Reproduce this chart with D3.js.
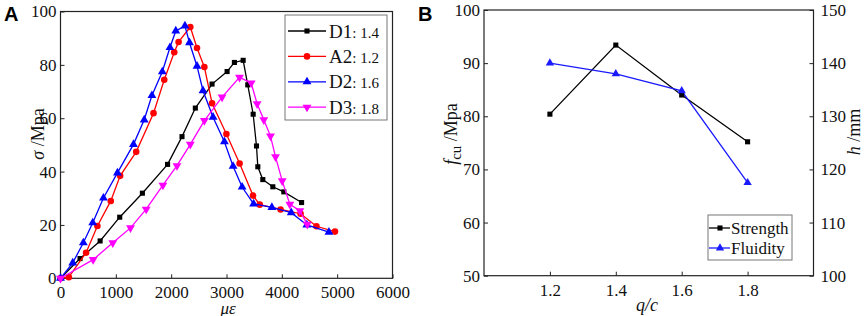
<!DOCTYPE html>
<html>
<head>
<meta charset="utf-8">
<script src="https://cdn.jsdelivr.net/npm/d3@7"></script>
<style>
  body { margin: 0; background: #fff; }
  svg { display: block; }
  svg text { font-family: "Liberation Serif", "Times New Roman", serif; }
</style>
</head>
<body>
<svg id="chart" width="865" height="316"></svg>
<script>
// Panel A : stress-strain curves (x = microstrain, y = MPa)
const seriesNames = ["D1", "A2", "D2", "D3"];
const seriesRatios = ["1.4", "1.2", "1.6", "1.8"];
const d1 = [[0,0],[353,7.4],[716,14],[1070,22.9],[1480,31.9],[1935,42.7],[2196,53.1],[2437,63.8],[2739,72.8],[3011,77.5],[3143,80.9],[3301,81.7],[3384,72.5],[3482,61.5],[3542,49.6],[3566,41.8],[3656,37],[3837,34.3],[4036,32.4],[4357,28.4]];
const a2 = [[0,0],[150,0.4],[462,9.6],[667,19.6],[909,29],[1078,38.4],[1368,47.4],[1681,61.9],[1875,74.4],[2056,84.7],[2134,88.6],[2346,94.2],[2467,86.3],[2600,79.2],[2739,65.6],[2998,54.1],[3237,43],[3480,31],[3601,27.6],[3977,25.8],[4339,24.2],[4625,19.5],[4960,17.5]];
const d2 = [[0,0],[221,5.8],[413,13.3],[583,20.8],[776,30.1],[1029,39.5],[1319,50.2],[1513,59.4],[1652,68.5],[1840,77.4],[1978,86.5],[2083,92.7],[2249,94.6],[2331,88.3],[2467,79.5],[2576,70.3],[2757,60.4],[2962,51.2],[3119,42],[3282,34.2],[3490,27.9],[3820,26.6],[4170,24.6],[4452,20],[4851,17.3]];
const d3s = [[0,0],[590,7],[945,13.3],[1265,18.9],[1549,25.9],[1851,34.9],[2105,42.2],[2346,50.2],[2600,59.1],[2920,67.9],[3235,75.3],[3446,73.2],[3554,65.4],[3674,59.4],[3795,53.3],[3886,45.5],[4007,36.5],[4145,27.7],[4326,25.3],[4460,20.2]];
const strainTicks = [0, 1000, 2000, 3000, 4000, 5000, 6000];
const stressTicks = [0, 20, 40, 60, 80, 100];

// Panel B : strength and fluidity vs q/c
const qc = [1.2, 1.4, 1.6, 1.8];
const strength = [80.4, 93.4, 84.0, 75.2];
const fluidity = [140.0, 138.0, 134.8, 117.5];
const qcTicks = [1.2, 1.4, 1.6, 1.8];
const fcuTicks = [50, 60, 70, 80, 90, 100];
const hTicks = [100, 110, 120, 130, 140, 150];

const svg = d3.select('#chart');
const axisColor = '#222';
const serif = '"Liberation Serif", "Times New Roman", serif';

function markerPath(kind, size) {
    const type = kind === 'square' ? d3.symbolSquare : kind === 'circle' ? d3.symbolCircle : d3.symbolTriangle;
    return d3.symbol().type(type).size(size)();
}

function drawMarkers(g, pts, kind, color, size) {
    g.selectAll(null)
        .data(pts)
        .enter().append('path')
        .attr('d', markerPath(kind, size))
        .attr('transform', d => `translate(${d[0]},${d[1]})` + (kind === 'down' ? ' rotate(180)' : ''))
        .attr('fill', color);
}

// strip d3's default sans-serif and restyle ticks
function styleAxis(g) {
    g.attr('font-family', null).attr('font-size', null);
    g.selectAll('.domain').remove();
    g.selectAll('line').attr('stroke', axisColor);
    g.selectAll('text')
        .attr('fill', '#111')
        .attr('font-family', serif)
        .attr('font-size', 17)
        .style('font-family', serif)
        .style('font-size', '17px');
}

// ---------- Panel A ----------
const xA = d3.scaleLinear().domain([0, 6000]).range([60.5, 392.5]);
const yA = d3.scaleLinear().domain([0, 100]).range([278.3, 11.5]);
const gA = svg.append('g');

gA.append('g').attr('transform', `translate(0,${yA(0)})`)
    .call(d3.axisBottom(xA).tickValues(strainTicks).tickFormat(d3.format('d')).tickSizeInner(-4).tickSizeOuter(0).tickPadding(7.5))
    .call(styleAxis);
gA.append('g').attr('transform', `translate(${xA(0)},0)`)
    .call(d3.axisLeft(yA).tickValues(stressTicks).tickSizeInner(-4).tickSizeOuter(0).tickPadding(4))
    .call(styleAxis);

gA.append('rect')
    .attr('x', xA(0)).attr('y', yA(100))
    .attr('width', xA(6000) - xA(0)).attr('height', yA(0) - yA(100))
    .attr('fill', 'none').attr('stroke', axisColor).attr('stroke-width', 1.2);

const seriesA = [
    { data: d1, color: '#000000', kind: 'square', size: 26 },
    { data: a2, color: '#ff0000', kind: 'circle', size: 34 },
    { data: d2, color: '#0000ff', kind: 'triangle', size: 34 },
    { data: d3s, color: '#ff00ff', kind: 'down', size: 34 }
];
const lineA = d3.line().x(d => xA(d[0])).y(d => yA(d[1]));

seriesA.forEach(s => {
    gA.append('path').datum(s.data)
        .attr('d', lineA).attr('fill', 'none')
        .attr('stroke', s.color).attr('stroke-width', 1.3);
    drawMarkers(gA, s.data.map(d => [xA(d[0]), yA(d[1])]), s.kind, s.color, s.size);
});

// legend A
gA.append('rect').attr('x', 285).attr('y', 15).attr('width', 102).attr('height', 105)
    .attr('fill', '#fff').attr('stroke', '#777').attr('stroke-width', 1);
seriesA.forEach((s, i) => {
    const y = 31 + i * 25.4;
    gA.append('line').attr('x1', 288).attr('x2', 326).attr('y1', y).attr('y2', y)
        .attr('stroke', s.color).attr('stroke-width', 1.3);
    drawMarkers(gA, [[307, y]], s.kind, s.color, s.size);
    const t = gA.append('text').attr('x', 329).attr('y', y + 6.5).attr('fill', '#111');
    t.append('tspan').style('font-size', '19px').text(seriesNames[i]);
    t.append('tspan').style('font-size', '15px').text(': ' + seriesRatios[i]);
});

// axis titles A
gA.append('text').attr('transform', 'translate(44,134) rotate(-90)')
    .attr('text-anchor', 'middle').style('font-size', '18px').attr('fill', '#111')
    .call(t => {
        t.append('tspan').style('font-style', 'italic').text('σ');
        t.append('tspan').text(' /Mpa');
    });
gA.append('text').attr('x', 228).attr('y', 313.5)
    .attr('text-anchor', 'middle').style('font-size', '17px').style('font-style', 'italic').attr('fill', '#111')
    .text('με');
svg.append('text').attr('x', 4).attr('y', 21)
    .style('font-family', '"Liberation Sans", Arial, sans-serif').style('font-weight', 'bold').style('font-size', '20px')
    .text('A');

// ---------- Panel B ----------
const xB = d3.scaleLinear().domain([1.0, 2.0]).range([484, 813.5]);
const yL = d3.scaleLinear().domain([50, 100]).range([275.7, 10]);
const yR = d3.scaleLinear().domain([100, 150]).range([275.7, 10]);
const gB = svg.append('g');

gB.append('g').attr('transform', `translate(0,${yL(50)})`)
    .call(d3.axisBottom(xB).tickValues(qcTicks).tickFormat(d3.format('.1f')).tickSizeInner(-4).tickSizeOuter(0).tickPadding(8))
    .call(styleAxis);
gB.append('g').attr('transform', `translate(${xB(1.0)},0)`)
    .call(d3.axisLeft(yL).tickValues(fcuTicks).tickSizeInner(-4).tickSizeOuter(0).tickPadding(4))
    .call(styleAxis);
gB.append('g').attr('transform', `translate(${xB(2.0)},0)`)
    .call(d3.axisRight(yR).tickValues(hTicks).tickSizeInner(-4).tickSizeOuter(0).tickPadding(7))
    .call(styleAxis);

gB.append('rect')
    .attr('x', xB(1.0)).attr('y', yL(100))
    .attr('width', xB(2.0) - xB(1.0)).attr('height', yL(50) - yL(100))
    .attr('fill', 'none').attr('stroke', axisColor).attr('stroke-width', 1.2);

const strengthPts = qc.map((q, i) => [xB(q), yL(strength[i])]);
const fluidityPts = qc.map((q, i) => [xB(q), yR(fluidity[i])]);
const lineB = d3.line();

gB.append('path').datum(strengthPts).attr('d', lineB).attr('fill', 'none')
    .attr('stroke', '#000').attr('stroke-width', 1.3);
gB.append('path').datum(fluidityPts).attr('d', lineB).attr('fill', 'none')
    .attr('stroke', '#1a1aff').attr('stroke-width', 1.3);
drawMarkers(gB, strengthPts, 'square', '#000', 26);
drawMarkers(gB, fluidityPts, 'triangle', '#1a1aff', 30);

// legend B
gB.append('rect').attr('x', 708).attr('y', 215).attr('width', 84).attr('height', 45)
    .attr('fill', '#fff').attr('stroke', '#777').attr('stroke-width', 1);
[['Strength', '#000', 'square', 26], ['Fluidity', '#1a1aff', 'triangle', 30]].forEach((e, i) => {
    const y = 228 + i * 20;
    gB.append('line').attr('x1', 709).attr('x2', 730).attr('y1', y).attr('y2', y)
        .attr('stroke', e[1]).attr('stroke-width', 1.3);
    drawMarkers(gB, [[720, y]], e[2], e[1], e[3]);
    gB.append('text').attr('x', 731).attr('y', y + 6).style('font-size', '17px').attr('fill', '#111').text(e[0]);
});

// axis titles B
gB.append('text').attr('transform', 'translate(457,134) rotate(-90)')
    .attr('text-anchor', 'middle').style('font-size', '18px').attr('fill', '#111')
    .call(t => {
        t.append('tspan').style('font-style', 'italic').text('f');
        t.append('tspan').attr('dy', 4).style('font-size', '15px').text('cu');
        t.append('tspan').attr('dy', -4).text(' /Mpa');
    });
gB.append('text').attr('transform', 'translate(860,132) rotate(-90)')
    .attr('text-anchor', 'middle').style('font-size', '18px').attr('fill', '#111')
    .call(t => {
        t.append('tspan').style('font-style', 'italic').text('h');
        t.append('tspan').text(' /mm');
    });
gB.append('text').attr('x', 647).attr('y', 311)
    .attr('text-anchor', 'middle').style('font-size', '18px').style('font-style', 'italic').attr('fill', '#111')
    .text('q/c');
svg.append('text').attr('x', 418).attr('y', 21)
    .style('font-family', '"Liberation Sans", Arial, sans-serif').style('font-weight', 'bold').style('font-size', '20px')
    .text('B');
</script>
</body>
</html>
